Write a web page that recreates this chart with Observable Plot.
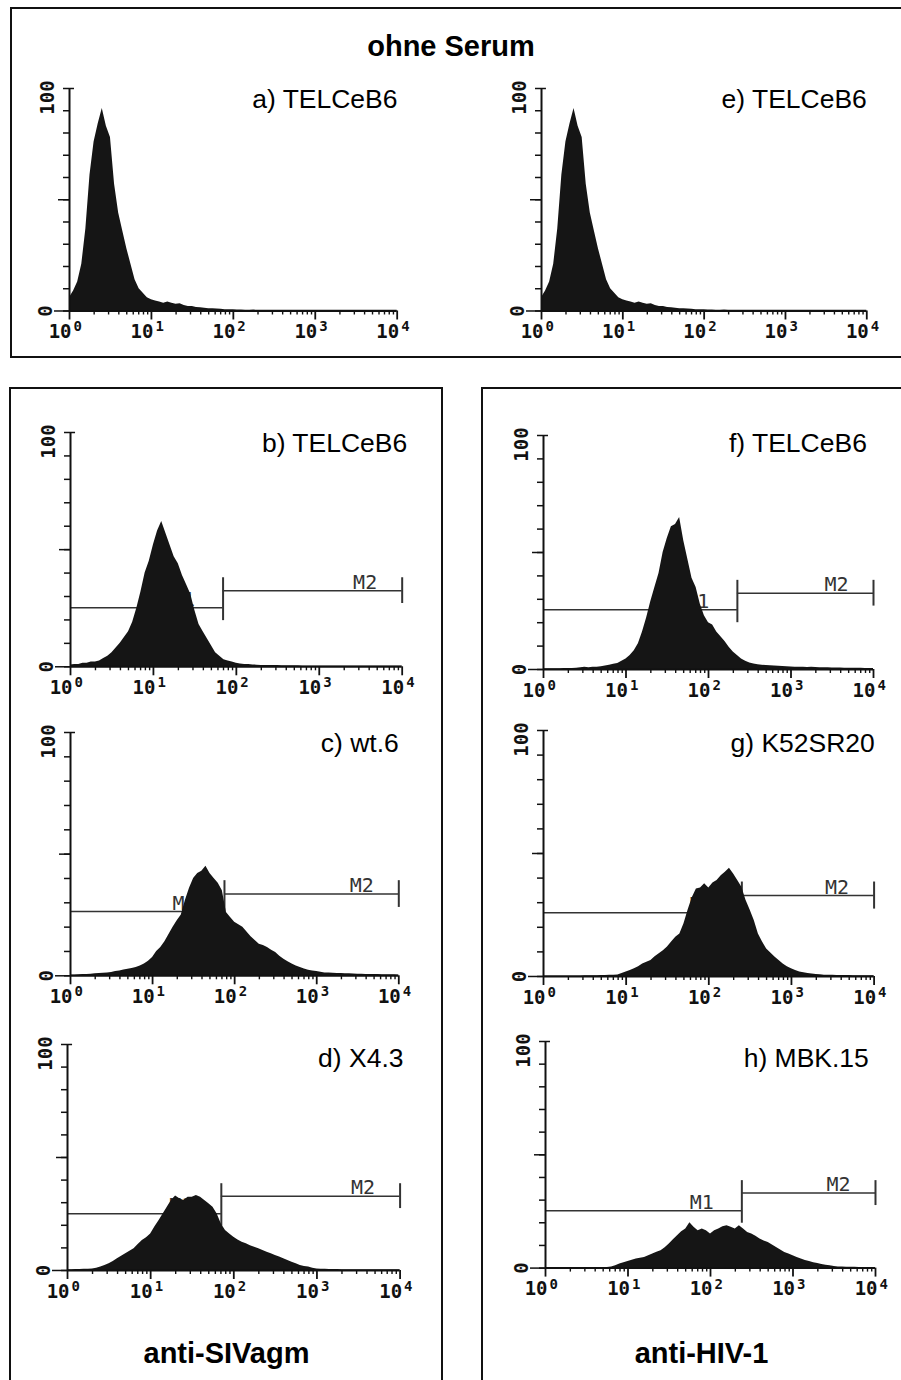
<!DOCTYPE html>
<html><head><meta charset="utf-8">
<script src="https://cdn.jsdelivr.net/npm/d3@7"></script>
<script src="https://cdn.jsdelivr.net/npm/@observablehq/plot@0.6"></script>
<style>
body{margin:0;background:#fff;}
#fig{position:relative;width:901px;height:1380px;overflow:hidden;background:#fff;font-family:"Liberation Sans",Arial,sans-serif;}
.box{position:absolute;border:2px solid #111;box-sizing:border-box;}
.title{position:absolute;font-weight:bold;font-size:29px;line-height:29px;white-space:nowrap;color:#000;text-align:center;}
</style></head><body><div id="fig"></div><script>
// ---------- data (counts per 0.05-decade channel bin, from 10^0 to 10^4) ----------
const binStep = 0.05;
const panelIds = ["a","b","c","d","e","f","g","h"];
const panelLabels = ["a) TELCeB6","b) TELCeB6","c) wt.6","d) X4.3","e) TELCeB6","f) TELCeB6","g) K52SR20","h) MBK.15"];
const countsA = [6,9,13,21,37,61,76,84,91,83,78,57,44,36,28,21,14,10,8,6,5,4.5,4,3.5,4,3.5,3,3.2,2.5,2,2,1.6,1.5,1.2,1,1,0.9,0.8,0.6,0.5,0.5,0.4,0.4,0.3,0.3,0.4,0.3,0.3,0.3,0.3,0.3,0.3,0.3,0.3,0.3,0.3,0.3,0.3,0.3,0.3,0.3,0.3,0.3,0.3,0.3,0.3,0.3,0.3,0.3,0.3,0.3,0.3,0.3,0.3,0.3,0.3,0.3,0.3,0.3,0.3,0.3];
const countsB = [0.8,1,1,1.5,1.5,2,2,2.5,3.5,4.5,6,8,10,12.5,15,19,25,32,40,45,52,58,62,57,52,47,44,39,35,31,24,18,15,12,9,6,4.5,3,2.5,2,1.5,1.2,1,1,0.8,0.7,0.6,0.6,0.5,0.5,0.5,0.4,0.4,0.4,0.4,0.4,0.3,0.3,0.3,0.3,0.3,0.3,0.3,0.3,0.3,0.3,0.3,0.3,0.3,0.3,0.3,0.3,0.3,0.3,0.3,0.3,0.3,0.3,0.3,0.3,0.3];
const countsC = [0.3,0.3,0.4,0.5,0.5,0.6,0.8,0.9,1,1.2,1.4,1.8,2,2.4,2.7,3,3.4,4,4.8,6,7.5,10,11.6,14,17,20,22.6,25,31,36,40,42,43,45,42,40,38,35,26,24,22,21,20,18,16,14.5,13,12.5,11.6,10.5,9.6,8,6.8,5.8,4.8,4,3.4,2.8,2.3,2,1.8,1.5,1.2,1.1,1,0.9,0.9,0.8,0.8,0.7,0.6,0.6,0.5,0.5,0.5,0.5,0.4,0.4,0.4,0.4,0.3];
const countsD = [0.3,0.3,0.4,0.4,0.5,0.6,0.7,1,1.5,2.2,3,4,5.2,6.3,7.4,8.5,9.6,11.5,13.3,14.5,16.2,19.2,22,25,28,31,33,31.7,31,32.4,32.4,33.2,32.4,31,29.5,28,25,20.6,17.7,16.2,14.7,13.5,12.5,11.8,11,10.3,9.6,8.8,8.1,7.4,6.6,6,5.2,4.4,3.7,3,2.2,1.8,1.5,1,0.7,0.5,0.5,0.4,0.4,0.4,0.3,0.3,0.3,0.3,0.3,0.3,0.3,0.3,0.3,0.3,0.3,0.3,0.3,0.3,0.3];
const countsE = [6,9,13,21,37,61,76,84,91,83,78,57,44,36,28,21,14,10,8,6,5,4.5,4,3.5,4,3.5,3,3.2,2.5,2,2,1.6,1.5,1.2,1,1,0.9,0.8,0.6,0.5,0.5,0.4,0.4,0.3,0.3,0.4,0.3,0.3,0.3,0.3,0.3,0.3,0.3,0.3,0.3,0.3,0.3,0.3,0.3,0.3,0.3,0.3,0.3,0.3,0.3,0.3,0.3,0.3,0.3,0.3,0.3,0.3,0.3,0.3,0.3,0.3,0.3,0.3,0.3,0.3,0.3];
const countsF = [0.3,0.3,0.3,0.3,0.3,0.4,0.4,0.4,0.5,0.8,1,0.8,1,1,1.2,1.5,1.8,2.2,2.6,3.5,4.5,6,8,11,16,22,29,35,41,50,56,61,62,65,55,47,39,35,28,23,20,19,16,14,12,9.5,7.5,6,4.5,3.5,2.8,2.3,2,1.8,1.7,1.6,1.5,1.4,1.3,1.2,1.1,1,1,1,0.9,1,0.9,0.8,0.7,0.7,0.6,0.6,0.6,0.5,0.5,0.5,0.5,0.5,0.4,0.4,0.4];
const countsG = [0.2,0.2,0.2,0.2,0.2,0.2,0.2,0.2,0.2,0.2,0.3,0.3,0.3,0.3,0.4,0.4,0.5,0.5,0.6,1.2,1.8,2.4,3.1,4,5.1,5.8,6.5,8,9.2,10.5,12,14,16,17.3,21.4,27,32,35.6,36,37.7,36,38,39,41,42.4,44,41.7,39,36.3,31,27,22.8,17.3,14,11.2,9.5,7.9,6.5,5.1,4,3.1,2.4,1.8,1.5,1.2,1,0.8,0.7,0.5,0.5,0.5,0.4,0.4,0.4,0.4,0.3,0.3,0.3,0.3,0.3,0.3];
const countsH = [0.2,0.2,0.2,0.2,0.2,0.2,0.2,0.2,0.2,0.2,0.2,0.2,0.3,0.3,0.3,0.3,0.5,1,1.8,2.4,2.9,3.5,4,4.3,4.7,5.5,6.2,7,7.6,9,10.6,12.5,14.3,16,17.2,20,18,16.5,17.2,16.5,15,16.5,17.2,18.2,18.7,18,17.2,18.7,17.2,15.7,15,14,12.8,12,11.3,10.2,9.1,8,6.9,6.2,5.4,4.7,4,3.4,2.9,2.4,2,1.6,1.3,1,0.7,0.5,0.5,0.4,0.4,0.4,0.3,0.3,0.3,0.3,0.3];
const allCounts = [countsA,countsB,countsC,countsD,countsE,countsF,countsG,countsH];
// gates (M1 | M2): split position in log10 units, marker heights in counts
const gateSplitLog = [null,1.84,1.876,1.85,null,2.35,2.40,2.38];
const gateM1Y = [null,25.2,26.4,25.1,null,25.5,25.9,25.3];
const gateM2Y = [null,32.5,33.6,32.9,null,32.6,32.9,33.1];
// axis ticks
const decades = [1,10,100,1000,10000];
const minorTicks = [1,10,100,1000].flatMap(d => [2,3,4,5,6,7,8,9].map(k => k*d));
const yTicks = d3.range(0,101,10);

// ---------- layout (page pixels of each plot frame) ----------
const layout = [
 {x0:69,   x1:396.7, yTop:87.5,   yZero:310,    labelRight:397,   labelBase:107.3},
 {x0:70,   x1:401.7, yTop:431.7,  yZero:666,    labelRight:406.7, labelBase:451.7},
 {x0:70,   x1:398.3, yTop:731.7,  yZero:975,    labelRight:398.3, labelBase:751.7},
 {x0:66.7, x1:399.3, yTop:1044,   yZero:1270,   labelRight:402.7, labelBase:1066.7},
 {x0:540.7,x1:866,   yTop:87.5,   yZero:310,    labelRight:866,   labelBase:107.3},
 {x0:543.3,x1:873.3, yTop:435,    yZero:669,    labelRight:866.7, labelBase:451.7},
 {x0:542.7,x1:873.3, yTop:730,    yZero:976,    labelRight:874,   labelBase:751.7},
 {x0:545,  x1:875,   yTop:1040.7, yZero:1267.3, labelRight:868.3, labelBase:1066.7}
];
const mono = "DejaVu Sans Mono, Liberation Mono, monospace";
const sans = "Liberation Sans, Arial, sans-serif";
const fig = document.getElementById("fig");

function addBox(l,t,w,h){
  const d=document.createElement("div");d.className="box";
  Object.assign(d.style,{left:l+"px",top:t+"px",width:w+"px",height:h+"px"});
  fig.appendChild(d);
}
function addTitle(text,cx,baseline){
  const d=document.createElement("div");d.className="title";d.textContent=text;
  Object.assign(d.style,{left:(cx-200)+"px",width:"400px",top:(baseline-24.5)+"px"});
  fig.appendChild(d);
}
addBox(9.5,7.3,893,351);
addBox(9,387.3,434,1100);
addBox(481.3,387.3,422,1100);
addTitle("ohne Serum",451,56.7);
addTitle("anti-SIVagm",226.5,1363);
addTitle("anti-HIV-1",701.5,1363);

function panel(i){
  const L = layout[i];
  const rows = allCounts[i].map((c,k) => ({fl: 10 ** (k*binStep), count: c}));
  const ML=55, MR=45, MT=25, MB=45;
  const w = L.x1-L.x0, h = L.yZero-L.yTop;
  const ink = "#111";
  const gateInk = "#333";
  const marks = [];
  const split = gateSplitLog[i];
  if (split != null){
    const s = 10 ** split, m1 = gateM1Y[i], m2 = gateM2Y[i];
    const gs = {stroke: gateInk, strokeWidth: 1.5};
    marks.push(
      Plot.ruleY([m1], {x1: 1, x2: s, ...gs}),
      Plot.ruleY([m2], {x1: s, x2: 1e4, ...gs}),
      Plot.ruleX([s], {y1: m1-5.5, y2: m2+5.5, stroke: gateInk, strokeWidth: 2}),
      Plot.ruleX([1e4], {y1: m2-5.5, y2: m2+5.5, stroke: gateInk, strokeWidth: 2}),
      Plot.text(["M1"], {x: s, y: m1, text: d=>d, dx: -28, dy: -2, textAnchor: "end", lineAnchor: "bottom", fontFamily: mono, fontSize: 20, fill: gateInk}),
      Plot.text(["M2"], {x: 1e4, y: m2, text: d=>d, dx: -25, dy: -2, textAnchor: "end", lineAnchor: "bottom", fontFamily: mono, fontSize: 20, fill: gateInk})
    );
  }
  marks.push(Plot.areaY(rows, {x: "fl", y: "count", fill: "#151515", curve: "linear"}));
  marks.push(
    Plot.ruleY([0], {stroke: ink, strokeWidth: 2}),
    Plot.ruleX([1], {y1: 0, y2: 100, stroke: ink, strokeWidth: 2}),
    Plot.ruleY([100], {x1: 1, x2: 1.15, stroke: ink, strokeWidth: 1.5}),
    Plot.axisX(minorTicks, {tickSize: 4, tickFormat: () => "", label: null, stroke: ink, strokeWidth: 1.4}),
    Plot.axisX(decades, {tickSize: 9, tickFormat: () => "", label: null, stroke: ink, strokeWidth: 1.8}),
    Plot.axisY(yTicks, {tickSize: 6, tickFormat: () => "", label: null, stroke: ink, strokeWidth: 1.5}),
    Plot.axisY([50], {tickSize: 11, tickFormat: () => "", label: null, stroke: ink, strokeWidth: 1.5}),
    Plot.axisY([0], {tickSize: 15, tickFormat: () => "", label: null, stroke: ink, strokeWidth: 1.5}),
    Plot.text(decades, {x: d=>d, y: 0, text: () => "10", textAnchor: "end", lineAnchor: "middle", dx: 2, dy: 21, fontFamily: mono, fontWeight: "bold", fontSize: 19, fill: ink}),
    Plot.text(decades, {x: d=>d, y: 0, text: d => String(Math.round(Math.log10(d))), textAnchor: "start", lineAnchor: "middle", dx: 4, dy: 16, fontFamily: mono, fontWeight: "bold", fontSize: 14, fill: ink}),
    Plot.text(["100"], {x: 1, y: 100, text: d=>d, rotate: -90, textAnchor: "middle", lineAnchor: "middle", dx: -22, dy: 9, fontFamily: mono, fontWeight: "bold", fontSize: 19, fill: ink}),
    Plot.text(["0"], {x: 1, y: 0, text: d=>d, rotate: -90, textAnchor: "middle", lineAnchor: "middle", dx: -24, dy: 0, fontFamily: mono, fontWeight: "bold", fontSize: 19, fill: ink}),
    Plot.text([panelLabels[i]], {frameAnchor: "top-right", text: d=>d, textAnchor: "end", lineAnchor: "bottom", dx: L.labelRight - L.x1, dy: L.labelBase - L.yTop, fontFamily: sans, fontSize: 26.5, fill: "#000"})
  );
  const svg = Plot.plot({
    width: w+ML+MR, height: h+MT+MB,
    marginLeft: ML, marginRight: MR, marginTop: MT, marginBottom: MB,
    x: {type: "log", domain: [1, 1e4], label: null},
    y: {domain: [0, 100], label: null},
    style: {background: "transparent", overflow: "visible"},
    marks
  });
  svg.setAttribute("id", "panel-" + panelIds[i]);
  Object.assign(svg.style, {position: "absolute", left: (L.x0-ML)+"px", top: (L.yTop-MT)+"px", maxWidth: "none"});
  fig.appendChild(svg);
}
for (let i = 0; i < 8; i++) panel(i);
</script></body></html>
